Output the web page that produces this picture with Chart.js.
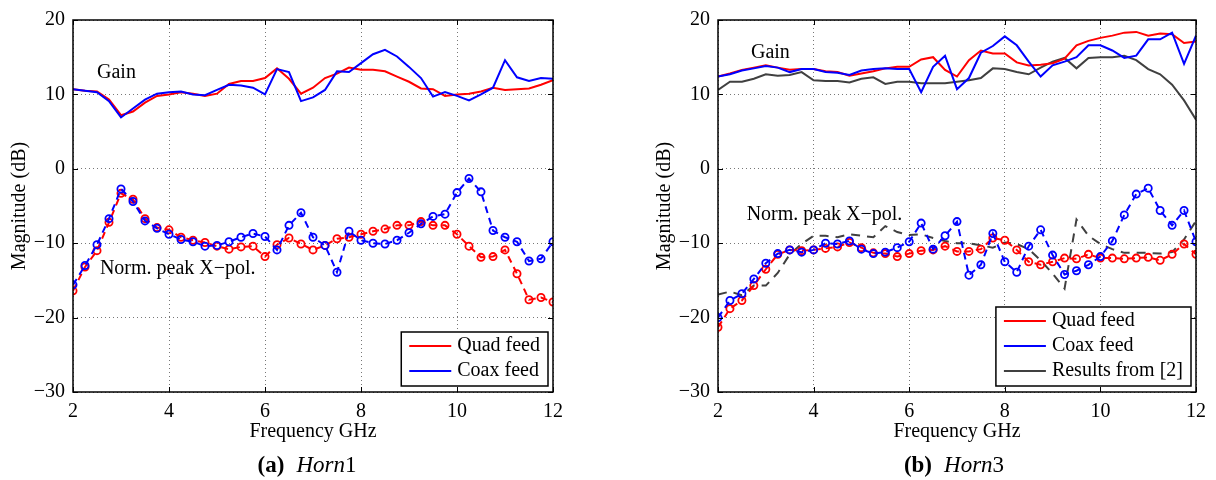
<!DOCTYPE html>
<html>
<head>
<meta charset="utf-8">
<script src="https://cdn.jsdelivr.net/npm/chart.js@4.4.0/dist/chart.umd.min.js"></script>
<style>
  body { margin: 0; background: #fff; width: 1216px; height: 480px; position: relative; overflow: hidden; }
  canvas { position: absolute; top: 0; }
</style>
</head>
<body>
<canvas id="horn1" width="608" height="480" style="left:0"></canvas>
<canvas id="horn3" width="608" height="480" style="left:608px"></canvas>
<script>
// Frequency points (GHz)
const freq = [2, 2.25, 2.5, 2.75, 3, 3.25, 3.5, 3.75, 4, 4.25, 4.5, 4.75, 5, 5.25, 5.5, 5.75, 6, 6.25, 6.5, 6.75,
  7, 7.25, 7.5, 7.75, 8, 8.25, 8.5, 8.75, 9, 9.25, 9.5, 9.75, 10, 10.25, 10.5, 10.75, 11, 11.25, 11.5, 11.75, 12];

// Horn1
const horn1QuadGain = [10.7, 10.5, 10.4, 9.3, 7.2, 7.7, 8.9, 9.8, 10.0, 10.3, 10.1, 9.8, 10.1, 11.4, 11.8, 11.8, 12.2, 13.5, 12.1, 10.1,
  10.9, 12.2, 12.8, 13.6, 13.3, 13.3, 13.1, 12.4, 11.7, 10.8, 10.7, 9.8, 10.0, 10.1, 10.4, 10.9, 10.6, 10.7, 10.8, 11.3, 11.9];
const horn1CoaxGain = [10.7, 10.5, 10.3, 9.1, 6.9, 8.1, 9.3, 10.1, 10.3, 10.4, 10.0, 9.9, 10.6, 11.3, 11.2, 10.9, 10.0, 13.4, 13.0, 9.1,
  9.6, 10.6, 13.1, 13.0, 14.2, 15.4, 16.0, 15.1, 13.7, 12.2, 9.7, 10.3, 9.8, 9.2, 10.0, 10.9, 14.6, 12.3, 11.8, 12.2, 12.1];
const horn1QuadXpol = [-16.4, -13.2, -11.0, -7.2, -3.3, -4.1, -6.7, -7.9, -8.2, -9.2, -9.6, -9.9, -10.4, -10.8, -10.5, -10.4, -11.8, -10.2, -9.3, -10.1,
  -10.9, -10.3, -9.4, -9.2, -8.8, -8.4, -8.1, -7.6, -7.6, -7.1, -7.6, -7.6, -8.8, -10.4, -11.9, -11.8, -10.9, -14.1, -17.6, -17.3, -17.9];
const horn1CoaxXpol = [-15.6, -13.0, -10.2, -6.7, -2.7, -4.4, -7.0, -8.0, -8.8, -9.5, -9.8, -10.4, -10.3, -9.8, -9.2, -8.7, -9.1, -10.9, -7.6, -5.9,
  -9.2, -10.3, -13.9, -8.4, -9.6, -10.0, -10.1, -9.6, -8.6, -7.4, -6.4, -6.1, -3.2, -1.3, -3.1, -8.3, -9.2, -9.8, -12.4, -12.1, -9.8];

// Horn3
const horn3QuadGain = [12.4, 12.8, 13.3, 13.6, 13.9, 13.6, 13.3, 13.4, 13.4, 13.1, 13.0, 12.5, 12.8, 13.1, 13.5, 13.7, 13.7, 14.7, 15.0, 13.3,
  12.4, 14.6, 15.9, 15.5, 15.5, 14.3, 13.9, 14.0, 14.2, 14.8, 16.6, 17.2, 17.6, 17.9, 18.3, 18.4, 17.9, 18.2, 18.1, 16.9, 17.1];
const horn3CoaxGain = [12.4, 12.7, 13.2, 13.5, 13.8, 13.6, 13.0, 13.4, 13.4, 13.0, 12.9, 12.6, 13.2, 13.4, 13.5, 13.4, 13.4, 10.3, 13.7, 15.2,
  10.7, 12.2, 15.6, 16.5, 17.8, 16.6, 14.4, 12.4, 13.9, 14.4, 15.0, 16.6, 16.6, 15.9, 14.9, 15.2, 17.4, 17.4, 18.3, 14.1, 17.9];
const horn3RefGain = [10.6, 11.7, 11.7, 12.1, 12.7, 12.5, 12.6, 13.0, 11.9, 11.8, 11.8, 11.6, 12.1, 12.3, 11.4, 11.7, 11.7, 11.5, 11.5, 11.5,
  11.7, 11.9, 12.2, 13.5, 13.4, 13.0, 12.7, 13.6, 14.4, 14.9, 13.5, 14.9, 15.0, 15.0, 15.2, 14.6, 13.4, 12.7, 11.3, 9.2, 6.6];
const horn3QuadXpol = [-21.3, -18.8, -17.7, -15.7, -13.5, -11.5, -10.9, -11.0, -10.9, -10.7, -10.5, -9.9, -10.6, -11.3, -11.4, -11.8, -11.4, -11.0, -10.9, -10.4,
  -11.1, -11.1, -10.8, -9.3, -9.6, -10.9, -12.5, -12.9, -12.5, -12.0, -12.1, -11.5, -12.0, -12.0, -12.1, -12.0, -11.9, -12.3, -11.5, -10.1, -11.5];
const horn3CoaxXpol = [-20.0, -17.7, -16.8, -14.8, -12.7, -11.4, -10.9, -11.2, -10.9, -10.0, -10.1, -9.7, -10.8, -11.4, -11.2, -10.6, -9.8, -7.3, -10.8, -9.0,
  -7.1, -14.3, -12.9, -8.7, -12.5, -13.9, -10.4, -8.2, -11.6, -14.2, -13.7, -12.9, -11.8, -9.7, -6.2, -3.4, -2.6, -5.6, -7.6, -5.6, -9.8];
const horn3RefXpol = [-16.9, -16.5, -17.0, -15.7, -15.7, -14.0, -11.5, -10.1, -9.0, -9.0, -9.2, -8.8, -9.0, -9.2, -7.7, -8.5, -8.9, -8.8, -9.3, -9.7,
  -10.0, -10.0, -10.3, -10.6, -9.9, -10.1, -10.8, -12.3, -14.1, -16.1, -6.8, -9.0, -10.1, -10.8, -11.3, -11.3, -11.3, -11.4, -11.2, -9.5, -7.0];

// Axis ticks
const xTicks = [2, 4, 6, 8, 10, 12];
const yTicks = [-30, -20, -10, 0, 10, 20];

const RED = '#ff0000', BLUE = '#0000ff', GREY = '#404040';
const SERIF = '"Liberation Serif", "Times New Roman", serif';

const pts = vals => freq.map((f, i) => ({ x: f, y: vals[i] }));

function solid(vals, color, order, label) {
  return { label, boxed: !!label, data: pts(vals), borderColor: color, borderWidth: 2, pointRadius: 0, tension: 0, order };
}
function marked(vals, color, order) {
  return {
    data: pts(vals), borderColor: color, borderWidth: 2, borderDash: [7, 5], tension: 0, order,
    pointRadius: 3.6, pointBorderWidth: 1.8, pointBorderColor: color, pointBackgroundColor: 'rgba(0,0,0,0)'
  };
}
function dashed(vals, color, order) {
  return { data: pts(vals), borderColor: color, borderWidth: 2, borderDash: [9, 7], pointRadius: 0, tension: 0, order };
}

// box, inward ticks, text notes, boxed legend and caption like the latex figure
const frame = {
  id: 'frame',
  afterDraw(chart, args, opts) {
    const { ctx, chartArea: a, scales: { x, y } } = chart;
    ctx.save();
    ctx.strokeStyle = '#000';
    ctx.lineWidth = 1;
    ctx.beginPath();
    x.ticks.forEach(t => {
      const px = Math.round(x.getPixelForValue(t.value)) + 0.5;
      ctx.moveTo(px, a.bottom); ctx.lineTo(px, a.bottom - 5);
      ctx.moveTo(px, a.top); ctx.lineTo(px, a.top + 5);
    });
    y.ticks.forEach(t => {
      const py = Math.round(y.getPixelForValue(t.value)) + 0.5;
      ctx.moveTo(a.left, py); ctx.lineTo(a.left + 5, py);
      ctx.moveTo(a.right, py); ctx.lineTo(a.right - 5, py);
    });
    ctx.stroke();
    ctx.lineWidth = 1.5;
    ctx.strokeRect(a.left, a.top, a.right - a.left, a.bottom - a.top);

    ctx.fillStyle = '#000';
    ctx.font = '20px ' + SERIF;
    ctx.textBaseline = 'middle';
    opts.notes.forEach(n => ctx.fillText(n.text, x.getPixelForValue(n.x), y.getPixelForValue(n.y)));

    const items = chart.data.datasets.filter(d => d.boxed);
    const textW = Math.max(...items.map(d => ctx.measureText(d.label).width));
    const w = 8 + 42 + 6 + textW + 8, h = items.length * 25 + 4;
    const bx = a.right - 5 - w, by = a.bottom - 6 - h;
    ctx.fillStyle = '#fff';
    ctx.fillRect(bx, by, w, h);
    ctx.lineWidth = 1.5;
    ctx.strokeRect(bx, by, w, h);
    items.forEach((d, i) => {
      const cy = by + 14 + i * 25;
      ctx.strokeStyle = d.borderColor; ctx.lineWidth = 2;
      ctx.beginPath(); ctx.moveTo(bx + 8, cy); ctx.lineTo(bx + 50, cy); ctx.stroke();
      ctx.fillStyle = '#000';
      ctx.fillText(d.label, bx + 56, cy);
    });

    // caption: bold tag, italic name, upright number
    const parts = [
      { t: opts.caption[0], f: 'bold 23px ' + SERIF, gap: 12 },
      { t: opts.caption[1], f: 'italic 23px ' + SERIF, gap: 0 },
      { t: opts.caption[2], f: '23px ' + SERIF, gap: 0 }
    ];
    const widths = parts.map(p => { ctx.font = p.f; return ctx.measureText(p.t).width + p.gap; });
    let cx = opts.captionX - widths.reduce((s, v) => s + v, 0) / 2;
    ctx.fillStyle = '#000';
    ctx.textBaseline = 'middle';
    parts.forEach((p, i) => { ctx.font = p.f; ctx.fillText(p.t, cx, 466); cx += widths[i]; });
    ctx.restore();
  }
};

function makeChart(id, datasets, notes, caption, captionX, padLeft, padRight) {
  return new Chart(document.getElementById(id), {
    type: 'line',
    data: { datasets },
    plugins: [frame],
    options: {
      responsive: false,
      animation: false,
      layout: { padding: { left: padLeft, right: padRight, top: 17, bottom: 0 } },
      plugins: { legend: { display: false }, tooltip: { enabled: false }, frame: { notes, caption, captionX } },
      scales: {
        x: {
          type: 'linear', min: 2, max: 12,
          afterBuildTicks: s => { s.ticks = xTicks.map(v => ({ value: v })); },
          afterFit: s => { s.height = 88; },
          grid: { color: '#777', drawTicks: false },
          border: { display: false, dash: [1, 3] },
          ticks: { color: '#000', padding: 8, font: { family: SERIF, size: 20 } },
          title: { display: true, text: 'Frequency GHz', color: '#000', padding: { top: 0, bottom: 36 }, font: { family: SERIF, size: 20 } }
        },
        y: {
          type: 'linear', min: -30, max: 20,
          afterBuildTicks: s => { s.ticks = yTicks.map(v => ({ value: v })); },
          afterFit: s => { s.width = 73; },
          grid: { color: '#777', drawTicks: false },
          border: { display: false, dash: [1, 3] },
          ticks: { color: '#000', padding: 8, font: { family: SERIF, size: 20 }, callback: v => String(v).replace('-', '\u2212') },
          title: { display: true, text: 'Magnitude (dB)', color: '#000', padding: { top: 8, bottom: 0 }, font: { family: SERIF, size: 20 } }
        }
      }
    }
  });
}

makeChart('horn1', [
  solid(horn1QuadGain, RED, 2, 'Quad feed'),
  solid(horn1CoaxGain, BLUE, 1, 'Coax feed'),
  marked(horn1QuadXpol, RED, 2),
  marked(horn1CoaxXpol, BLUE, 1)
], [
  { text: 'Gain', x: 2.5, y: 12.9 },
  { text: 'Norm. peak X\u2212pol.', x: 2.56, y: -13.5 }
], ['(a)', 'Horn', '1'], 307, 0, 55);

makeChart('horn3', [
  solid(horn3QuadGain, RED, 2, 'Quad feed'),
  solid(horn3CoaxGain, BLUE, 1, 'Coax feed'),
  solid(horn3RefGain, GREY, 3, 'Results from [2]'),
  marked(horn3QuadXpol, RED, 2),
  marked(horn3CoaxXpol, BLUE, 1),
  dashed(horn3RefXpol, GREY, 3)
], [
  { text: 'Gain', x: 2.69, y: 15.6 },
  { text: 'Norm. peak X\u2212pol.', x: 2.6, y: -6.2 }
], ['(b)', 'Horn', '3'], 346, 37, 20);
</script>
</body>
</html>
